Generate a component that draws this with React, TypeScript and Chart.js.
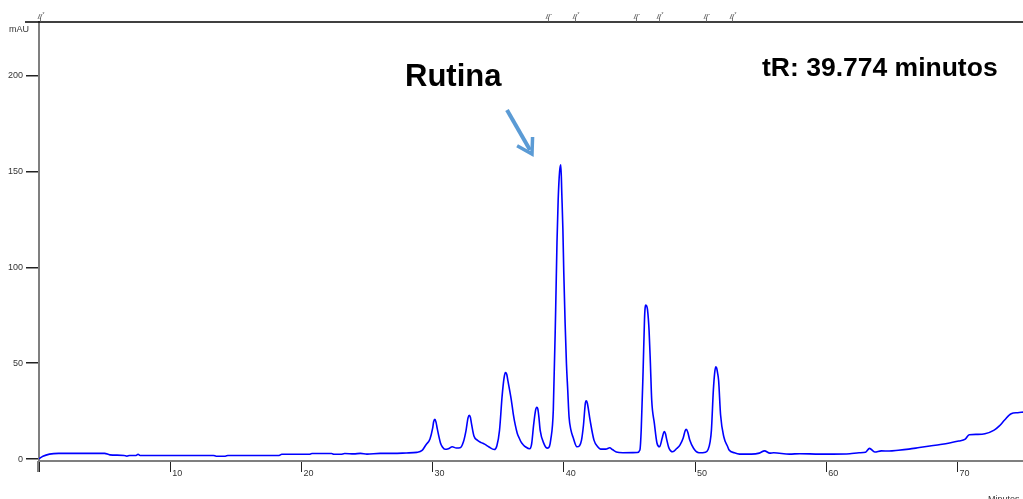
import React, { useEffect, useRef } from 'react';
import { Chart, registerables } from 'chart.js';

Chart.register(...registerables);

// Chromatogram trace: retention time (min) and detector response (mAU)
const retentionTimes = [
  0, 0.3, 0.8, 1.5, 5.0, 5.4, 6.5, 6.7, 6.9, 7.4, 7.55, 7.7, 13.3, 13.5, 14.2, 14.4,
  18.3, 18.5, 20.6, 20.8, 22.3, 22.5, 23.0, 23.3, 24.0, 24.5, 25.0, 26.0, 27.0, 28.0,
  28.8, 29.2, 29.5, 29.8, 30.0, 30.08, 30.17, 30.26, 30.35, 30.6, 30.75, 30.95, 31.2, 31.5, 31.8,
  32.1, 32.35, 32.55, 32.7, 32.8, 32.88, 32.95, 33.15, 33.4, 33.7, 33.96, 34.3, 34.7, 34.9, 35.1,
  35.3, 35.45, 35.55, 35.65, 35.75, 36.0, 36.15, 36.3, 36.45, 36.6, 36.75, 36.9, 37.1, 37.4, 37.55, 37.7,
  37.85, 37.94, 38.02, 38.1,
  38.2, 38.5, 38.75, 38.9, 39.0, 39.2, 39.38, 39.48, 39.57, 39.68, 39.774, 39.85,
  39.93, 40.0, 40.1, 40.2, 40.3, 40.4, 40.55, 40.7, 41.0, 41.2, 41.35, 41.5, 41.65, 41.72,
  41.8, 42.0, 42.3, 42.6, 42.8, 43.2, 43.5, 43.7, 44.0, 44.5, 45.6, 45.8, 45.9,
  46.04, 46.15, 46.2, 46.25, 46.32, 46.38, 46.5, 46.6, 46.7, 46.9, 47.1, 47.3, 47.5, 47.6, 47.67, 47.75, 47.85,
  48.0, 48.3, 48.6, 48.85, 49.1, 49.25, 49.33, 49.45, 49.6, 49.9, 50.3, 50.8, 51.0, 51.15,
  51.25, 51.4, 51.5, 51.58, 51.65, 51.72, 51.8, 51.95, 52.2, 52.5, 52.6, 53.0, 53.4, 54.3, 54.9,
  55.3, 55.7, 56.0, 57.2, 58.0, 59.5, 60.5, 61.8, 62.5, 63.0, 63.3, 63.7, 64.2, 64.8,
  65.5, 66.3, 67.1, 67.9, 68.7, 69.4, 70.1, 70.6, 70.9, 71.5, 72.1, 72.8, 73.2, 73.6,
  74.1, 74.6, 75.0,
];

const absorbance = [
  0.2, 1.5, 2.6, 3.0, 3.0, 2.2, 1.9, 1.5, 1.9, 1.9, 2.5, 1.9, 1.9, 1.5, 1.5, 1.9,
  1.9, 2.5, 2.5, 2.9, 2.9, 2.5, 2.5, 2.9, 2.7, 3.0, 2.6, 3.0, 3.0, 3.2,
  3.5, 4.5, 7.5, 10.5, 16, 19.5, 20.7, 19.3, 16, 8.4, 6.3, 5.1, 5.4, 6.4, 5.8,
  5.9, 9, 15, 21.5, 22.8, 21.8, 19, 12, 9.9, 8.6, 7.8, 6.3, 5.0, 7, 15,
  33, 42.5, 45.1, 44.2, 40.5, 30.8, 23.5, 17.8, 13.5, 11, 8.8, 7.5, 6.3, 5.4, 8, 17.8,
  25.5, 27, 26.2, 22,
  15, 7.8, 5.7, 6.5, 9.9, 25.6, 77.8, 112.8, 135, 150, 153.5, 138,
  120, 97, 71, 50, 36, 22, 15, 11.5, 6.4, 7, 9.9, 17.8, 29.5, 30.4,
  29, 20.4, 9.9, 6.3, 5.2, 5.2, 5.9, 5.0, 3.7, 3.3, 3.4, 4.7, 15,
  45, 72.6, 79, 80.4, 79.8, 78, 67, 50, 30.8, 18.8, 8.4, 6.4, 11, 13.6, 14.3, 13.2, 10,
  6, 3.8, 5.5, 7.3, 11, 14.8, 15.5, 14, 9.9, 5.5, 3.3, 3.6, 5, 9,
  15, 36, 45, 48.2, 47.5, 45, 41, 23, 11.5, 6.3, 4.7, 3.3, 2.6, 2.6, 3.1,
  4.3, 3.1, 3.3, 2.6, 2.8, 2.6, 2.6, 2.8, 3.3, 3.6, 5.6, 3.7, 4.3, 4.2,
  4.6, 5.2, 6.0, 6.8, 7.6, 8.4, 9.4, 10.4, 12.7, 12.9, 13.2, 15.1, 17.3, 20.4,
  23.7, 24.2, 24.5,
];

const xTickValues = [0, 10, 20, 30, 40, 50, 60, 70];
const yTickValues = [0, 50, 100, 150, 200];

// Integration event markers along the top edge
const eventTimes = [0.05, 38.78, 40.86, 45.52, 47.24, 50.85, 52.83];
const eventKinds = ['*', 'L', '*', 'L', '*', 'L', '*'];

const peakName = 'Rutina';
const rutinTime = '39.774';
const retentionLabel = `tR: ${rutinTime} minutos`;

const FONT = '"Liberation Sans", Arial, sans-serif';
const AXIS_GRAY = '#7f7f7f';

const overlayPlugin = {
  id: 'chromOverlay',
  afterDraw(chart: any) {
    const { ctx, chartArea, scales } = chart;
    const xs = scales.x;
    const top = chartArea.top;
    ctx.save();

    // top frame line
    ctx.strokeStyle = '#000';
    ctx.lineWidth = 1.5;
    ctx.beginPath();
    ctx.moveTo(25, top);
    ctx.lineTo(chart.width, top);
    ctx.stroke();

    // y axis extension below the time axis
    ctx.strokeStyle = AXIS_GRAY;
    ctx.lineWidth = 2;
    ctx.beginPath();
    ctx.moveTo(chartArea.left - 1, chartArea.bottom);
    ctx.lineTo(chartArea.left - 1, chartArea.bottom + 11);
    ctx.stroke();

    // event markers
    ctx.strokeStyle = '#555';
    ctx.lineWidth = 0.8;
    ctx.fillStyle = '#555';
    ctx.font = `5px ${FONT}`;
    eventTimes.forEach((t, i) => {
      const px = Math.round(xs.getPixelForValue(t)) + 0.5;
      ctx.beginPath();
      ctx.moveTo(px, top);
      ctx.lineTo(px, top - 4);
      ctx.moveTo(px - 2.5, top - 3);
      ctx.lineTo(px - 0.5, top - 8);
      ctx.moveTo(px - 0.5, top - 3);
      ctx.lineTo(px + 1.5, top - 8);
      ctx.stroke();
      ctx.textAlign = 'left';
      ctx.textBaseline = 'middle';
      ctx.fillText(eventKinds[i] === '*' ? '*' : '-', px + 2, top - 7);
    });

    // axis titles
    ctx.fillStyle = '#333';
    ctx.font = `9px ${FONT}`;
    ctx.textAlign = 'left';
    ctx.textBaseline = 'middle';
    ctx.fillText('mAU', 9, 30);
    ctx.textBaseline = 'top';
    ctx.fillText('Minutes', 988, 495);

    // peak annotation
    ctx.fillStyle = '#000';
    ctx.font = `bold 31px ${FONT}`;
    ctx.textAlign = 'left';
    ctx.textBaseline = 'middle';
    ctx.fillText(peakName, 405, 77);
    ctx.font = `bold 26.5px ${FONT}`;
    ctx.fillText(retentionLabel, 762, 69);

    // arrow
    const x0 = 507, y0 = 110, x1 = 532, y1 = 154;
    ctx.strokeStyle = '#5b9bd5';
    ctx.lineWidth = 4;
    ctx.lineCap = 'butt';
    ctx.beginPath();
    ctx.moveTo(x0, y0);
    ctx.lineTo(x1 - 2, y1 - 4);
    ctx.stroke();
    const ang = Math.atan2(y1 - y0, x1 - x0);
    const headLen = 17;
    ctx.lineWidth = 3.5;
    ctx.beginPath();
    ctx.moveTo(x1 - headLen * Math.cos(ang - 0.55), y1 - headLen * Math.sin(ang - 0.55));
    ctx.lineTo(x1, y1);
    ctx.lineTo(x1 - headLen * Math.cos(ang + 0.55), y1 - headLen * Math.sin(ang + 0.55));
    ctx.stroke();

    ctx.restore();
  },
};

export default function App() {
  const canvasRef = useRef<HTMLCanvasElement | null>(null);

  useEffect(() => {
    const canvas = canvasRef.current;
    if (!canvas) return;
    const points = retentionTimes.map((t, i) => ({ x: t, y: absorbance[i] }));

    const chart = new Chart(canvas, {
      type: 'line',
      data: {
        datasets: [
          {
            data: points,
            borderColor: '#0000ff',
            borderWidth: 1.6,
            pointRadius: 0,
            fill: false,
            cubicInterpolationMode: 'monotone',
          },
        ],
      },
      options: {
        responsive: false,
        animation: false,
        devicePixelRatio: 1,
        layout: { padding: { top: 22, right: 0, left: 0, bottom: 0 } },
        plugins: {
          legend: { display: false },
          tooltip: { enabled: false },
        },
        scales: {
          x: {
            type: 'linear',
            min: 0,
            max: 75,
            afterFit: (s: any) => {
              s.height = 38;
            },
            afterBuildTicks: (s: any) => {
              s.ticks = xTickValues.map((v) => ({ value: v }));
            },
            border: { display: true, color: AXIS_GRAY, width: 2 },
            grid: {
              drawOnChartArea: false,
              drawTicks: true,
              tickLength: 11,
              color: '#222',
              lineWidth: 1,
            },
            ticks: {
              autoSkip: false,
              maxRotation: 0,
              align: 'start',
              labelOffset: 2,
              padding: -4,
              color: '#333',
              font: { family: FONT, size: 9 },
              callback: (v: any) => (v === 0 ? '' : String(v)),
            },
          },
          y: {
            type: 'linear',
            min: -1,
            max: 228,
            afterFit: (s: any) => {
              s.width = 39;
            },
            afterBuildTicks: (s: any) => {
              s.ticks = yTickValues.map((v) => ({ value: v }));
            },
            border: { display: true, color: AXIS_GRAY, width: 2 },
            grid: {
              drawOnChartArea: false,
              drawTicks: true,
              tickLength: 13,
              color: '#222',
              lineWidth: 1.5,
            },
            ticks: {
              padding: 3,
              color: '#333',
              font: { family: FONT, size: 9 },
            },
          },
        },
      },
      plugins: [overlayPlugin],
    } as any);

    return () => chart.destroy();
  }, []);

  return (
    <div
      style={{
        position: 'fixed',
        left: 0,
        top: 0,
        width: 1023,
        height: 499,
        background: '#fff',
        overflow: 'hidden',
      }}
    >
      <canvas ref={canvasRef} width={1023} height={499} style={{ display: 'block' }} />
    </div>
  );
}
